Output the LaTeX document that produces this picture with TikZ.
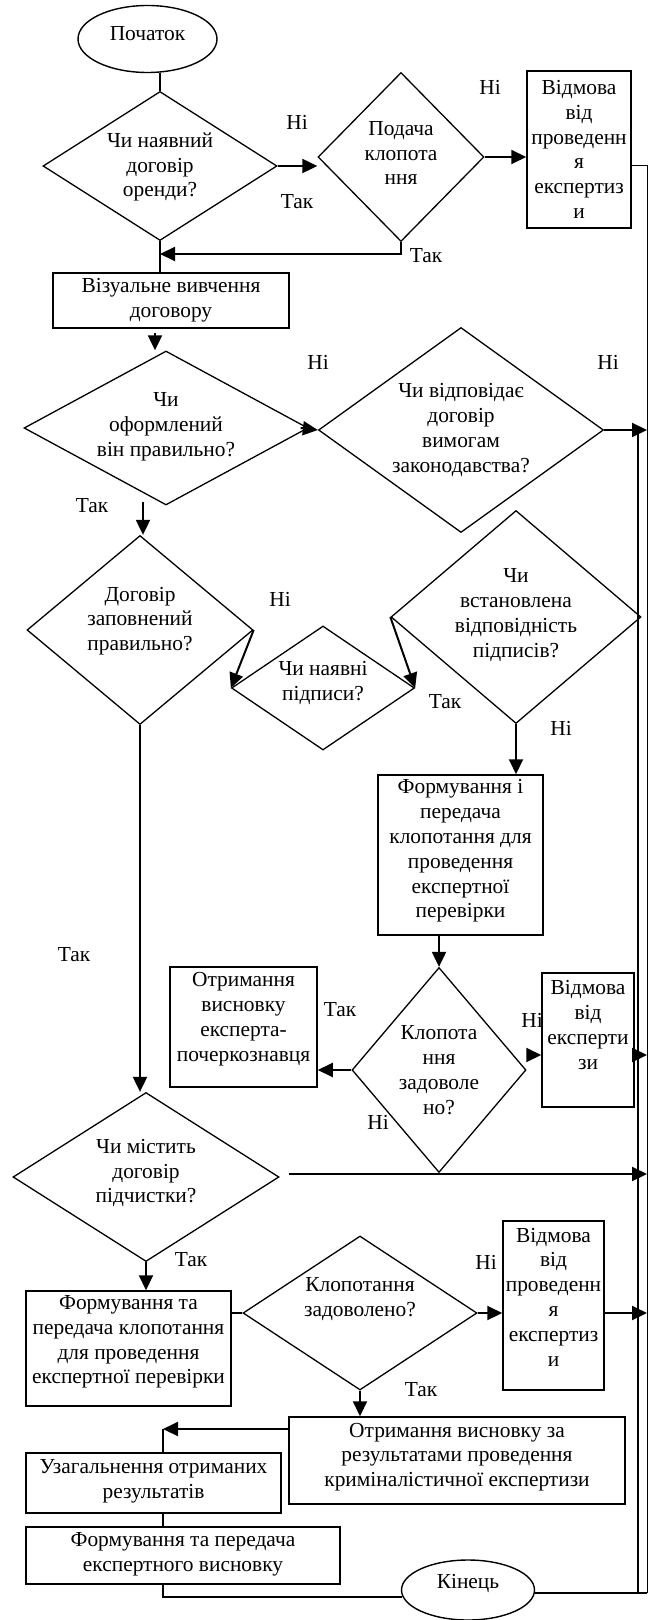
\documentclass[tikz,border=0pt]{standalone}
\usepackage{fontspec}
\setmainfont{Liberation Serif}
\usetikzlibrary{shapes.geometric,arrows.meta,calc}
\tikzset{
  dia/.style={diamond, draw, line width=0.65pt},
  box/.style={rectangle, draw, line width=0.75pt},
  term/.style={ellipse, draw, line width=0.7pt},
  con/.style={line width=1pt},
  thinline/.style={line width=0.5pt},
  arr/.style={line width=1pt, -{Triangle[length=7.5pt,width=7pt]}}
}
\begin{document}
\begin{tikzpicture}[x=0.5pt,y=-0.5pt,
  every node/.style={font=\fontsize{10.7pt}{12.4pt}\selectfont, inner sep=0pt, align=center}]
\useasboundingbox (0,0) rectangle (648,1620);

% shapes
\node[term, minimum width=69.5pt, minimum height=33.5pt] (S) at (147.5,39) {};
\node (St) at (147.5,34) {Початок};
\node[dia, minimum width=117pt, minimum height=74.5pt] (D1) at (160,166) {};
\node (D1t) at (160,167) {Чи наявний\\договір\\оренди?};
\node[dia, minimum width=83pt, minimum height=84.5pt] (D2) at (401,157) {};
\node (D2t) at (401,153) {Подача\\клопота\\ння};
\node[box, minimum width=52pt, minimum height=78.5pt] (B1) at (579,149.5) {};
\node (B1t) at (579,149.5) {Відмова\\від\\проведенн\\я\\експертиз\\и};
\node[box, minimum width=118pt, minimum height=27.5pt] (B2) at (171,300.5) {};
\node (B2t) at (171,300.5) {Візуальне вивчення\\договору};
\node[dia, minimum width=142pt, minimum height=77pt] (D3) at (166,428) {};
\node (D3t) at (166,427) {Чи\\оформлений\\він правильно?};
\node[dia, minimum width=142.5pt, minimum height=102.5pt] (D4) at (461,430) {};
\node (D4t) at (461,430) {Чи відповідає\\договір\\вимогам\\законодавства?};
\node[dia, minimum width=113pt, minimum height=94.5pt] (D5) at (140,630) {};
\node (D5t) at (140,621) {Договір\\заповнений\\правильно?};
\node[dia, minimum width=91.5pt, minimum height=62pt] (D6) at (323,688) {};
\node (D6t) at (323,683) {Чи наявні\\підписи?};
\node[dia, minimum width=125pt, minimum height=106.5pt] (D7) at (516,617) {};
\node (D7t) at (516,615) {Чи\\встановлена\\відповідність\\підписів?};
\node[box, minimum width=82.5pt, minimum height=80pt] (B3) at (460.5,855) {};
\node (B3t) at (460.5,851) {Формування і\\передача\\клопотання для\\проведення\\експертної\\перевірки};
\node[box, minimum width=73.5pt, minimum height=60pt] (B4) at (243.5,1027) {};
\node (B4t) at (243.5,1019) {Отримання\\висновку\\експерта-\\почеркознавця};
\node[dia, minimum width=87pt, minimum height=102.5pt] (D9) at (439,1070) {};
\node (D9t) at (439,1070) {Клопота\\ння\\задоволе\\но?};
\node[box, minimum width=46pt, minimum height=67pt] (B5) at (588,1040) {};
\node (B5t) at (588,1025) {Відмова\\від\\експерти\\зи};
\node[dia, minimum width=133pt, minimum height=84.5pt] (D8) at (146,1177) {};
\node (D8t) at (146,1173) {Чи містить\\договір\\підчистки?};
\node[dia, minimum width=117pt, minimum height=77pt] (D10) at (360,1313) {};
\node (D10t) at (360,1299) {Клопотання\\задоволено?};
\node[box, minimum width=50.5pt, minimum height=84.5pt] (B7) at (553.5,1305.5) {};
\node (B7t) at (553.5,1297) {Відмова\\від\\проведенн\\я\\експертиз\\и};
\node[box, minimum width=102.5pt, minimum height=57.5pt] (B6) at (128.5,1348.5) {};
\node (B6t) at (128.5,1342) {Формування та\\передача клопотання\\для проведення\\експертної перевірки};
\node[box, minimum width=168pt, minimum height=43.5pt] (B8) at (457,1460.5) {};
\node (B8t) at (457,1457) {Отримання висновку за\\результатами проведення\\криміналістичної експертизи};
\node[box, minimum width=127.5pt, minimum height=30pt] (B9) at (153.5,1483) {};
\node (B9t) at (153.5,1481) {Узагальнення отриманих\\результатів};
\node[box, minimum width=157pt, minimum height=28.5pt] (B10) at (183,1555.5) {};
\node (B10t) at (183,1554) {Формування та передача\\експертного висновку};
\node[term, minimum width=66.5pt, minimum height=30pt] (E) at (468,1590) {};
\node (Et) at (468,1583) {Кінець};

% labels
\node (n1) at (297,122) {Ні};
\node (t1) at (297,202) {Так};
\node (n2) at (490,87) {Ні};
\node (t2) at (426,256) {Так};
\node (n3) at (318,362) {Ні};
\node (n4) at (608,362) {Ні};
\node (t3) at (92,506) {Так};
\node (n5) at (280,599) {Ні};
\node (t4) at (445,702) {Так};
\node (n6) at (561,728) {Ні};
\node (t5) at (74,955) {Так};
\node (t6) at (340,1010) {Так};
\node (n7) at (532,1020) {Ні};
\node (n8) at (378,1122) {Ні};
\node (t7) at (191,1260) {Так};
\node (n9) at (486,1262) {Ні};
\node (t8) at (421,1390) {Так};

% helper coordinates
\coordinate (R) at (647,166);
\coordinate (Rb) at (647,1593);
\coordinate (T) at (638,428);
\coordinate (Tb) at (638,1593);
\coordinate (y254) at (0,254);
\coordinate (y1055) at (0,1055);
\coordinate (y1174) at (0,1174);
\coordinate (c1) at (163,1429);
\coordinate (a7) at ($(B2.south)+(-16,4)$);
\coordinate (a11) at ($(D5.north)+(3,-33)$);
\coordinate (eL) at ($(E.west)+(1.5,7)$);

% connectors
\draw[con] (D1.north |- S.south) -- (D1.north);
\draw[arr] (D1.east) -- (D1.east -| D2.west);
\draw[arr] (D2.east) -- (D2.east -| B1.west);
\draw[thinline] (B1.east |- R) -- (R) -- (Rb);
\draw[arr] (D2.south) |- (D1.south |- y254);
\draw[con] (D1.south) -- (D1.south |- B2.north);
\draw[arr] (a7) -- (a7 |- D3.north);
\draw[arr] ($(D3.east)+(-8,0)$) -- (D4.west);
\draw[arr] (D4.east) -- (D4.east -| R);
\draw[con] (T) -- (Tb);
\draw[arr] (a11) -- (a11 |- D5.north);
\draw[arr] (D5.east) -- (D6.west);
\draw[arr] (D7.west) -- (D6.east);
\draw[arr] (D7.south) -- (D7.south |- B3.north);
\draw[arr] (D5.south) -- (D5.south |- D8.north);
\draw[arr] (D9.north |- B3.south) -- (D9.north);
\draw[arr] (D9.west) -- (D9.west -| B4.east);
\draw[arr] (D9.east |- y1055) -- (B5.west |- y1055);
\draw[arr] (B5.east |- y1055) -- (R |- y1055);
\draw[arr] ($(D8.east)+(9,-3)$) -- (R |- y1174);
\draw[arr] (D8.south) -- (D8.south |- B6.north);
\draw[con] (D10.west -| B6.east) -- (D10.west);
\draw[arr] (D10.east) -- (D10.east -| B7.west);
\draw[arr] (B7.east |- D10.east) -- (R |- D10.east);
\draw[arr] (D10.south) -- (D10.south |- B8.north);
\draw[arr] (B8.west |- c1) -- (c1);
\draw[con] (c1) -- (c1 |- B9.north);
\draw[con] (c1 |- B9.south) -- (c1 |- B10.north);
\draw[con] (c1 |- B10.south) |- (eL);
\draw[con] (E.east |- Rb) -- (Rb);
\end{tikzpicture}
\end{document}
